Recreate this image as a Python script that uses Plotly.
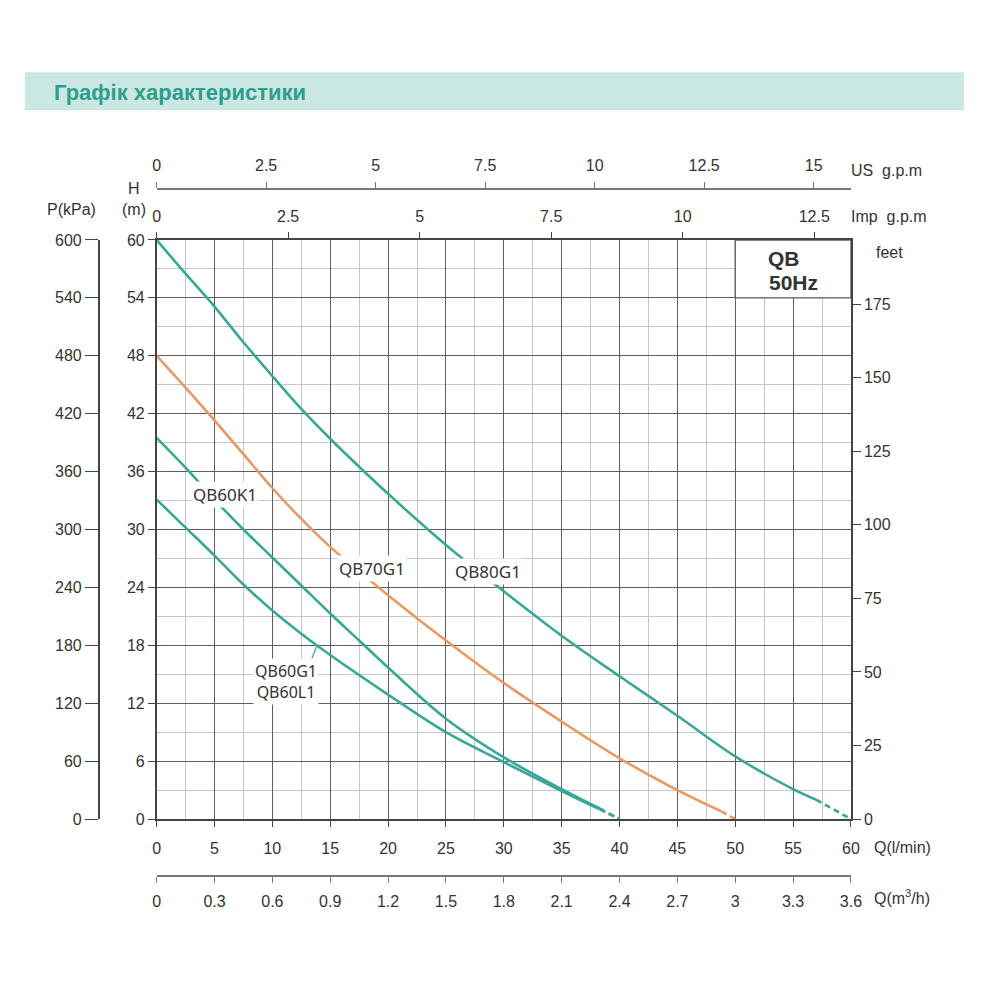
import plotly.graph_objects as go

# ---------------- data ----------------
q_ticks = [0, 5, 10, 15, 20, 25, 30, 35, 40, 45, 50, 55, 60]
h_ticks = [0, 6, 12, 18, 24, 30, 36, 42, 48, 54, 60]
kpa_ticks = [0, 60, 120, 180, 240, 300, 360, 420, 480, 540, 600]
feet_ticks = [0, 25, 50, 75, 100, 125, 150, 175]
us_ticks = [0, 2.5, 5, 7.5, 10, 12.5, 15]
us_labels = ["0", "2.5", "5", "7.5", "10", "12.5", "15"]
imp_ticks = [0, 2.5, 5, 7.5, 10, 12.5]
imp_labels = ["0", "2.5", "5", "7.5", "10", "12.5"]
m3h_ticks = [0, 0.3, 0.6, 0.9, 1.2, 1.5, 1.8, 2.1, 2.4, 2.7, 3.0, 3.3, 3.6]
m3h_labels = ["0", "0.3", "0.6", "0.9", "1.2", "1.5", "1.8", "2.1", "2.4", "2.7", "3", "3.3", "3.6"]

# QB80G1
qb80g1_q = [0, 2.5, 5, 7.5, 10, 12.5, 15, 17.5, 20, 25, 30, 35, 40, 45, 50, 55, 57]
qb80g1_h = [60, 56.5, 53.1, 49.4, 45.9, 42.5, 39.4, 36.5, 33.7, 28.4, 23.6, 19.0, 14.8, 10.7, 6.5, 3.1, 2.0]
qb80g1_end_q = [57, 60]
qb80g1_end_h = [2.0, 0]

# QB70G1
qb70g1_q = [0, 2.5, 5, 7.5, 10, 12.5, 15, 20, 25, 30, 35, 40, 45, 48.8]
qb70g1_h = [48, 44.7, 41.3, 37.8, 34.3, 31.1, 28.2, 23.2, 18.5, 14.1, 10.1, 6.3, 3.0, 0.8]
qb70g1_end_q = [48.8, 50]
qb70g1_end_h = [0.8, 0]

# QB60K1
qb60k1_q = [0, 2.5, 5, 7.5, 10, 12.5, 15, 17.5, 20, 25, 30, 35, 38.3]
qb60k1_h = [39.5, 36.4, 33.1, 30.0, 27.1, 24.2, 21.3, 18.5, 15.7, 10.4, 6.4, 3.1, 1.1]
qb60k1_end_q = [38.3, 40]
qb60k1_end_h = [1.1, 0]

# QB60G1 / QB60L1
qb60g1_q = [0, 2.5, 5, 7.5, 10, 12.5, 15, 20, 25, 30, 35, 38.3]
qb60g1_h = [33.1, 30.2, 27.3, 24.3, 21.6, 19.2, 17.0, 12.9, 9.0, 5.9, 2.9, 1.0]
qb60g1_end_q = [38.3, 40]
qb60g1_end_h = [1.0, 0]

# ---------------- style ----------------
TEAL = "#37a897"
ORANGE = "#ea9860"
AX = "#444444"
MAJOR = "#5e5e5e"
MINOR = "#c6c6c6"
TXT = "#333333"
FONT = "Liberation Sans"
tf = dict(family=FONT, size=16, color=TXT)

# pixel -> paper helpers (compensating for the capture scale)
def px(v):
    return (v - 4.2) / 0.986 / 1000.0

def py(v):
    return 1.0 - (v - 7.7) / 0.9845 / 1000.0

fig = go.Figure()

def curve(q, h, color, dash="solid"):
    fig.add_trace(go.Scatter(x=q, y=h, mode="lines",
                             line=dict(color=color, width=2.6, dash=dash, shape="spline", smoothing=1.0),
                             hoverinfo="skip", showlegend=False))

curve(qb80g1_q, qb80g1_h, TEAL)
curve(qb80g1_end_q, qb80g1_end_h, TEAL, "6px,4px")
curve(qb70g1_q, qb70g1_h, ORANGE)
curve(qb70g1_end_q, qb70g1_end_h, ORANGE, "6px,4px")
curve(qb60k1_q, qb60k1_h, TEAL)
curve(qb60k1_end_q, qb60k1_end_h, TEAL, "6px,4px")
curve(qb60g1_q, qb60g1_h, TEAL)
curve(qb60g1_end_q, qb60g1_end_h, TEAL, "6px,4px")

# dummy traces to register secondary axes
for xa, ya in [("x2", "y"), ("x3", "y"), ("x4", "y"), ("x", "y2"), ("x", "y3")]:
    fig.add_trace(go.Scatter(x=[None], y=[None], xaxis=xa, yaxis=ya, mode="markers",
                             hoverinfo="skip", showlegend=False))

XD = [px(157), px(852)]
YD = [py(820), py(240)]

fig.update_layout(
    width=1000, height=1000,
    margin=dict(l=0, r=0, t=0, b=0),
    paper_bgcolor="white", plot_bgcolor="white",
    showlegend=False,
    xaxis=dict(domain=XD, range=[0, 60], tickmode="array", tickvals=q_ticks,
               ticktext=[str(v) for v in q_ticks],
               ticks="outside", ticklen=6, tickcolor=AX, showline=True, linecolor=AX, linewidth=1.5,
               showgrid=True, gridcolor=MAJOR, gridwidth=1.4,
               minor=dict(tickmode="linear", tick0=0, dtick=2.5, showgrid=True, gridcolor=MINOR, gridwidth=1.4),
               zeroline=False, tickfont=tf, ticklabelstandoff=8, anchor="y"),
    yaxis=dict(domain=YD, range=[0, 60], tickmode="array", tickvals=h_ticks,
               ticktext=[str(v) for v in h_ticks],
               ticks="outside", ticklen=7, tickcolor=AX, showline=True, linecolor=AX, linewidth=1.5,
               showgrid=True, gridcolor=MAJOR, gridwidth=1.4,
               minor=dict(tickmode="linear", tick0=0, dtick=3, showgrid=True, gridcolor=MINOR, gridwidth=1.4),
               zeroline=False, tickfont=tf, anchor="x"),
    xaxis2=dict(overlaying="x", anchor="free", position=py(189), side="top", domain=XD,
                range=[0, 60 / 3.78541], tickmode="array", tickvals=us_ticks, ticktext=us_labels,
                ticks="outside", ticklen=6, tickcolor="#777", showline=True, linecolor="#777", linewidth=1.5,
                showgrid=False, zeroline=False, tickfont=tf, ticklabelstandoff=5),
    xaxis3=dict(overlaying="x", anchor="y", side="top", domain=XD,
                range=[0, 60 / 4.54609], tickmode="array", tickvals=imp_ticks, ticktext=imp_labels,
                ticks="outside", ticklen=6, tickcolor=AX, showline=True, linecolor=AX, linewidth=1.5,
                showgrid=False, zeroline=False, tickfont=tf, ticklabelstandoff=4),
    xaxis4=dict(overlaying="x", anchor="free", position=py(877), side="bottom", domain=XD,
                range=[0, 3.6], tickmode="array", tickvals=m3h_ticks, ticktext=m3h_labels,
                ticks="outside", ticklen=6, tickcolor="#777", showline=True, linecolor="#777", linewidth=1.5,
                showgrid=False, zeroline=False, tickfont=tf, ticklabelstandoff=5),
    yaxis2=dict(overlaying="y", anchor="free", position=px(99), side="left", domain=YD,
                range=[0, 600], tickmode="array", tickvals=kpa_ticks, ticktext=[str(v) for v in kpa_ticks],
                ticks="outside", ticklen=13, tickcolor=AX, showline=True, linecolor=AX, linewidth=1.5,
                showgrid=False, zeroline=False, tickfont=tf),
    yaxis3=dict(overlaying="y", anchor="x", side="right", domain=YD,
                range=[0, 60 / 0.3048], tickmode="array", tickvals=feet_ticks,
                ticktext=[str(v) for v in feet_ticks],
                ticks="outside", ticklen=8, tickcolor=AX, showline=True, linecolor=AX, linewidth=1.5,
                showgrid=False, zeroline=False, tickfont=tf),
)

shapes = [
    dict(type="rect", xref="paper", yref="paper", x0=px(25), x1=px(965), y0=py(110), y1=py(72),
         fillcolor="#c9e7e3", line=dict(width=0), layer="below"),
    dict(type="rect", xref="x", yref="y", x0=50, x1=60, y0=54, y1=60,
         fillcolor="white", line=dict(color=MAJOR, width=1.4), layer="between"),
    dict(type="line", xref="x", yref="y", x0=13.38, y0=16.5, x1=13.82, y1=17.9,
         line=dict(color=TEAL, width=1.2)),
]
fig.update_layout(shapes=shapes)

ann = []
def pa(text, x, y, xanchor="center", size=16, bold=False, color=TXT, family=FONT):
    t = f"<b>{text}</b>" if bold else text
    ann.append(dict(text=t, x=px(x), y=py(y), xref="paper", yref="paper", xanchor=xanchor, yanchor="middle",
                    showarrow=False, font=dict(family=family, size=size, color=color)))

pa("Графік характеристики", 52, 92, "left", size=22, bold=True, color="#2e9e8a")
pa("P(kPa)", 72, 210)
pa("H", 134, 188)
pa("(m)", 134, 210)
pa("US\u00a0 g.p.m", 850, 170, "left")
pa("Imp\u00a0 g.p.m", 850, 217, "left")
pa("feet", 875, 253, "left")
pa("Q(l/min)", 873, 848, "left")
pa("Q(m<sup>3</sup>/h)", 873, 898, "left")

def da(text, x, y, xanchor="center", size=17, bold=False, family="Noto Sans", bg="white"):
    t = f"<b>{text}</b>" if bold else text
    ann.append(dict(text=t, x=x, y=y, xref="x", yref="y", xanchor=xanchor, yanchor="middle",
                    showarrow=False, bgcolor=bg, borderpad=1,
                    font=dict(family=family, size=size, color=TXT)))

da("QB60K1", 5.87, 33.6)
da("QB70G1", 18.65, 26.0)
da("QB80G1", 28.6, 25.7)
da("QB60G1<br>QB60L1", 11.2, 14.25, size=16)
da("QB", 54.2, 58.1, size=21, bold=True, family=FONT, bg=None)
da("50Hz", 55.0, 55.6, size=21, bold=True, family=FONT, bg=None)

fig.update_layout(annotations=ann)
fig.write_html("out.html")
